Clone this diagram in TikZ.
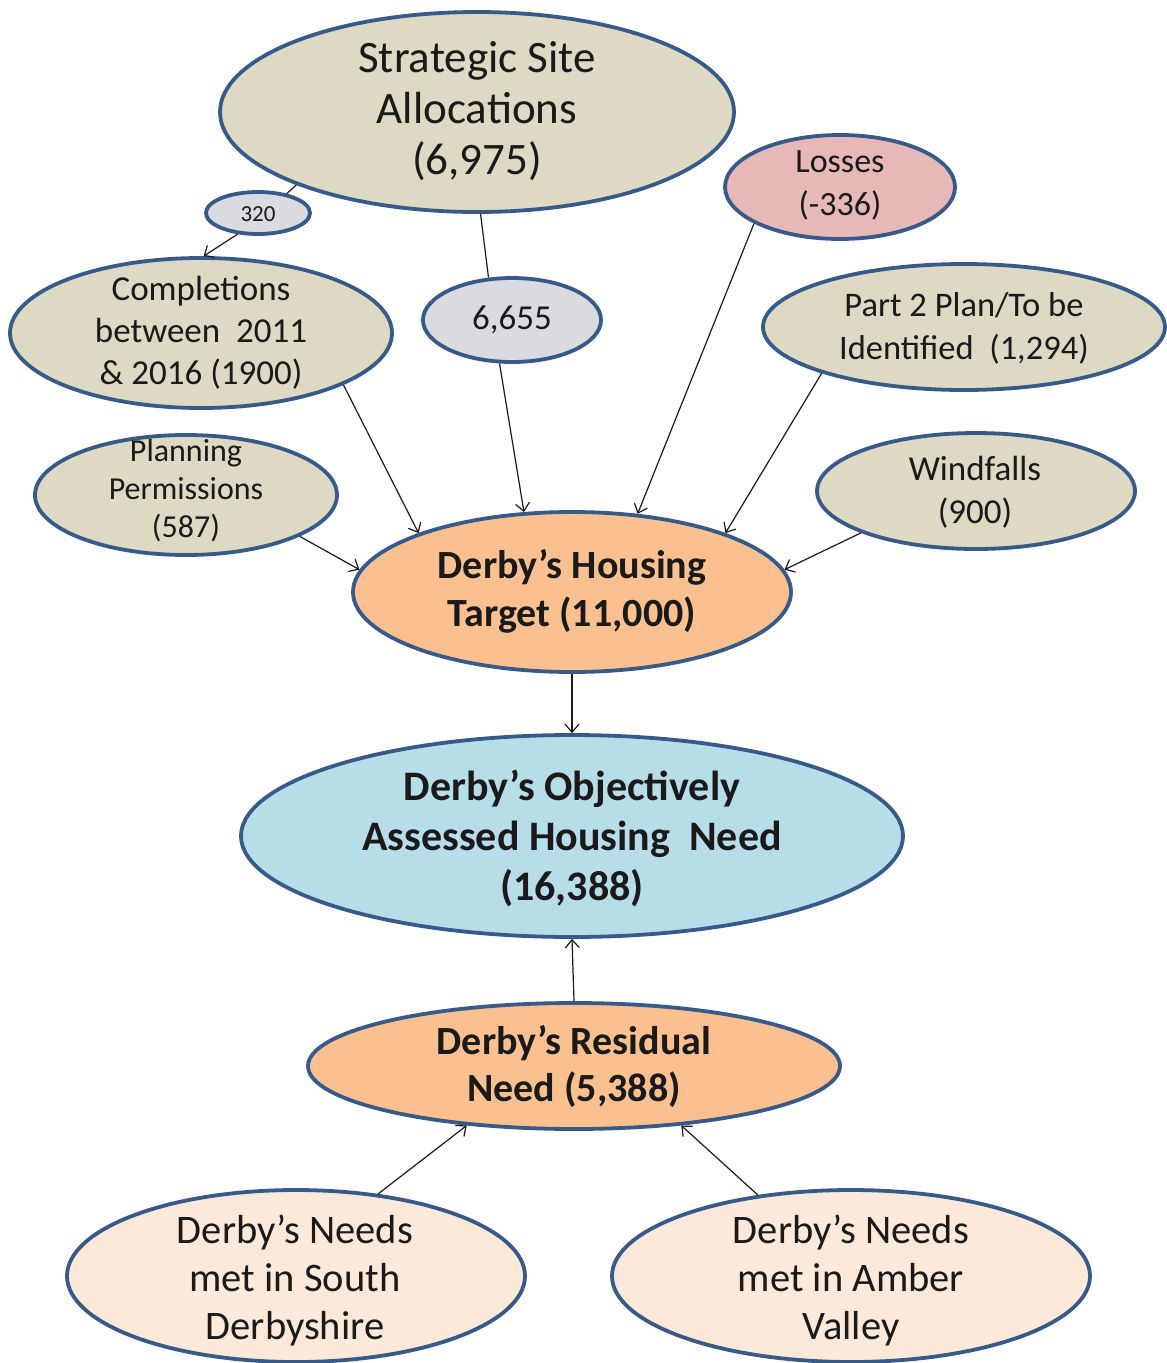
\documentclass[tikz,border=0pt]{standalone}
\usepackage{fontspec}
\setmainfont{Carlito}
\usetikzlibrary{arrows.meta,shapes.geometric}
\definecolor{bord}{HTML}{385A88}
\definecolor{tanf}{HTML}{DDD9C3}
\definecolor{greyb}{HTML}{D9DBE0}
\definecolor{pinkl}{HTML}{E6B9B8}
\definecolor{peach}{HTML}{FAC090}
\definecolor{lblue}{HTML}{B7DEE8}
\definecolor{lpeach}{HTML}{FDE9D9}
\definecolor{ink}{HTML}{1A1A1A}
\begin{document}
\begin{tikzpicture}[x=1pt,y=-1pt,
  ell/.style={ellipse, draw=bord, line width=3.8pt, inner sep=0pt},
  txt/.style={align=center, text=ink, inner sep=0pt},
  arr/.style={draw=ink, line width=1.2pt, -{Straight Barb[length=8pt,width=14pt]}},
  ln/.style={draw=ink, line width=1.2pt}]
\useasboundingbox[fill=white] (0,0) rectangle (1167,1363);

% ellipses
\node[ell, fill=tanf, minimum width=514pt, minimum height=200pt] (ssa) at (477,112) {};
\node[ell, fill=greyb, minimum width=104pt, minimum height=42pt] (n320) at (258,213) {};
\node[ell, fill=pinkl, minimum width=230pt, minimum height=104pt] (loss) at (840,187) {};
\node[ell, fill=tanf, minimum width=382pt, minimum height=150pt] (comp) at (201,333) {};
\node[ell, fill=greyb, minimum width=178pt, minimum height=84pt] (n6655) at (512,320) {};
\node[ell, fill=tanf, minimum width=402pt, minimum height=126pt] (part) at (964,327) {};
\node[ell, fill=tanf, minimum width=302pt, minimum height=120pt] (plan) at (186,495) {};
\node[ell, fill=tanf, minimum width=318pt, minimum height=116pt] (wind) at (976,491) {};
\node[ell, fill=peach, minimum width=438pt, minimum height=160pt] (tgt) at (572,592) {};
\node[ell, fill=lblue, minimum width=662pt, minimum height=202pt] (obj) at (572,836) {};
\node[ell, fill=peach, minimum width=532pt, minimum height=126pt] (res) at (574,1066) {};
\node[ell, fill=lpeach, minimum width=458pt, minimum height=172pt] (south) at (296,1276) {};
\node[ell, fill=lpeach, minimum width=478pt, minimum height=172pt] (amber) at (851,1276) {};

% texts
\node[txt, font=\fontsize{45}{51}\selectfont] (ssa-t) at (477,111) {Strategic Site\\Allocations\\(6,975)};
\node[txt, font=\fontsize{23}{25}\selectfont] (n320-t) at (258,214) {320};
\node[txt, font=\fontsize{34}{43}\selectfont] (loss-t) at (840,185) {Losses\\(-336)};
\node[txt, font=\fontsize{35}{42}\selectfont] (comp-t) at (201,333) {Completions\\between~ 2011\\\& 2016 (1900)};
\node[txt, font=\fontsize{35}{40}\selectfont] (n6655-t) at (512,320) {6,655};
\node[txt, font=\fontsize{34.5}{43}\selectfont] (part-t) at (964,328) {Part 2 Plan/To be\\Identified~ (1,294)};
\node[txt, font=\fontsize{32}{38}\selectfont] (plan-t) at (186,491) {Planning\\Permissions\\(587)};
\node[txt, font=\fontsize{35}{43}\selectfont] (wind-t) at (975,492) {Windfalls\\(900)};
\node[txt, font=\bfseries\fontsize{40}{48}\selectfont] (tgt-t) at (572,591) {Derby’s Housing\\Target (11,000)};
\node[txt, font=\bfseries\fontsize{42}{50}\selectfont] (obj-t) at (572,838) {Derby’s Objectively\\Assessed Housing~ Need\\(16,388)};
\node[txt, font=\bfseries\fontsize{40}{47}\selectfont] (res-t) at (574,1066) {Derby’s Residual\\Need (5,388)};
\node[txt, font=\fontsize{40.5}{48}\selectfont] (south-t) at (295,1280) {Derby’s Needs\\met in South\\Derbyshire};
\node[txt, font=\fontsize{40.5}{48}\selectfont] (amber-t) at (851,1280) {Derby’s Needs\\met in Amber\\Valley};

% connectors
\draw[ln] (ssa.202) -- (n320.34);
\draw[arr] (n320.226) -- (comp.88);
\draw[ln] (ssa.-88) -- (n6655.119);
\draw[arr] (n6655.-106) -- (tgt.121);
\draw[arr] (comp.-20) -- (tgt.159);
\draw[arr] (loss.203) -- (tgt.50);
\draw[arr] (part.198) -- (tgt.21);
\draw[arr] (plan.-20) -- (tgt.174);
\draw[arr] (wind.200) -- (tgt.6);
\draw[arr] (tgt.south) -- (obj.north);
\draw[arr] (res.north) -- (obj.south);
\draw[arr] (south.45) -- (res.209.6);
\draw[arr] (amber.139) -- (res.-29.4);
\end{tikzpicture}
\end{document}
